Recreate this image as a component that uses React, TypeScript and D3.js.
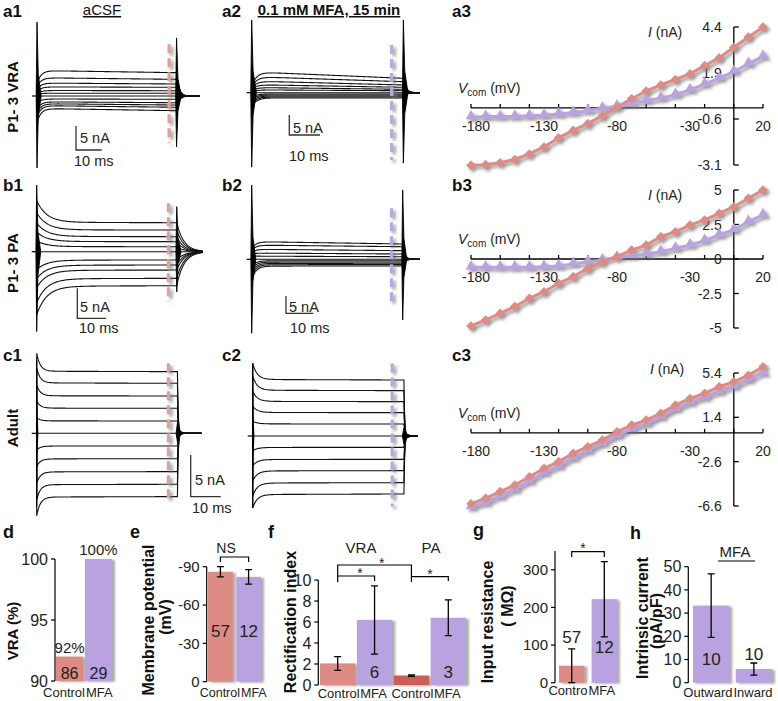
import React from 'react';
import * as d3 from 'd3';

const FONT = '"Liberation Sans", Arial, Helvetica, sans-serif';
const RED = '#dd8c85';
const PURPLE = '#b8a3e0';
const DARK_RED = '#c95e55';
const DASH_RED = '#e39f99';
const DASH_PURPLE = '#b9a6e2';

// ---------- a1–c2: whole-cell currents (nA), one value per voltage step ----------
const a1Late = [4.86, 3.47, 2.5, 1.81, 1.1, 0.56, 0, -0.69, -1.4, -1.88, -2.35, -3.06];
const a1Early = [5.3, 3.8, 2.7, 1.9, 1.15, 0.58, 0, -0.62, -1.2, -1.6, -2.0, -2.6];
const a1Onset = [2.5, 1.8, 1.3, 0.9, 0.5, 0.3, 0, -1.5, -2.8, -3.6, -4.4, -5.6];

const a2Late = [3.6, 2.75, 1.93, 1.35, 0.85, 0.5, 0, -0.33, -0.58, -0.83, -1.08, -1.33];
const a2Early = [5.2, 4.0, 2.9, 2.0, 1.3, 0.7, 0, -0.3, -0.55, -0.8, -1.05, -1.3];
const a2Onset = [1.5, 1.2, 1.0, 0.8, 0.5, 0.2, 0, -1.2, -1.8, -2.4, -3.0, -3.6];

const b1Late = [4.83, 3.61, 2.5, 1.67, 0.83, 0, -1.39, -2.22, -3.06, -4.44, -5.67];
const b1Early = [4.9, 3.65, 2.55, 1.7, 0.85, 0, -1.4, -2.25, -3.1, -4.5, -5.75];
const b1Onset = [8.5, 6.5, 4.8, 3.3, 1.8, 0, -3.0, -4.5, -6.0, -8.5, -10.5];

const b2Late = [4.41, 3.63, 2.48, 1.53, 0.75, 0, -0.4, -0.78, -1.15, -1.53, -1.93];
const b2Early = [5.1, 4.1, 2.9, 1.8, 0.9, 0, -0.42, -0.8, -1.18, -1.56, -1.96];
const b2Onset = [3.0, 2.5, 2.0, 1.5, 1.0, 0, -2.0, -3.0, -4.0, -5.0, -6.0];

const c1Late = [7.4, 6.0, 4.48, 3.0, 1.48, 0, -1.52, -3.05, -4.6, -6.12, -7.6];
const c1Early = [7.45, 6.05, 4.5, 3.02, 1.49, 0, -1.53, -3.07, -4.63, -6.16, -7.65];
const c1Onset = [9.6, 7.8, 5.8, 3.9, 1.9, 0, -2.0, -4.0, -6.0, -8.0, -9.9];

const c2Late = [11.2, 9.07, 6.87, 4.67, 2.4, 0, -2.27, -4.67, -6.93, -9.33, -11.6];
const c2Early = [11.3, 9.15, 6.92, 4.7, 2.42, 0, -2.29, -4.7, -6.98, -9.4, -11.7];
const c2Onset = [14.5, 12.0, 9.0, 6.0, 3.0, 0, -3.0, -6.0, -9.0, -12.0, -14.4];

// capacitive spikes [on up, on down, off up, off down] in nA
const a1Spikes = [15.4, -15, 12.1, -10.6];
const a2Spikes = [18.2, -18.6, 18.2, -17.6];
const b1Spikes = [11.1, -13.3, 7.5, -6.7];
const b2Spikes = [21.4, -21.3, 20, -17.5];
const c1Spikes = [8.8, -8.8, 1.2, -1.0];
const c2Spikes = [14.6, -14.4, 1.6, -1.6];

// ---------- a3–c3: I–V curves ----------
const vSteps = [-180, -170, -160, -150, -140, -130, -120, -110, -100, -90, -80, -70, -60, -50, -40, -30, -20, -10, 0, 10, 20];
const vTicks = [-180, -160, -140, -120, -100, -80, -60, -40, -20, 0, 20];
const vLabels = [-180, -130, -80, -30, 20];

const a3Control = [-3.12, -3.08, -2.98, -2.8, -2.5, -2.12, -1.62, -1.22, -0.85, -0.42, 0.05, 0.5, 0.92, 1.25, 1.55, 1.85, 2.3, 2.72, 3.3, 3.85, 4.4];
const a3MFA = [-0.5, -0.47, -0.47, -0.46, -0.43, -0.4, -0.33, -0.25, -0.15, -0.02, 0.1, 0.25, 0.4, 0.53, 0.72, 0.98, 1.3, 1.62, 1.97, 2.4, 2.8];
const a3Ticks = [-3.1, -0.6, 1.9, 4.4];

const b3Control = [-4.85, -4.42, -3.94, -3.45, -2.85, -2.37, -1.76, -1.28, -0.68, -0.19, 0.17, 0.65, 1.01, 1.62, 1.98, 2.46, 2.83, 3.31, 3.79, 4.4, 5.0];
const b3MFA = [-0.6, -0.6, -0.6, -0.6, -0.6, -0.56, -0.51, -0.36, -0.19, -0.07, 0.12, 0.22, 0.36, 0.53, 0.77, 1.01, 1.33, 1.74, 2.1, 2.71, 3.19];
const b3Ticks = [-5, -2.5, 0, 2.5, 5];

const c3Control = [-6.4, -5.9, -5.3, -4.7, -3.96, -3.2, -2.6, -1.85, -1.25, -0.65, 0.1, 0.7, 1.15, 1.76, 2.5, 3.1, 3.56, 4.16, 4.6, 5.2, 5.97];
const c3MFA = [-6.7, -6.3, -5.7, -5.1, -4.35, -3.6, -3.0, -2.25, -1.6, -0.95, -0.25, 0.35, 0.85, 1.45, 2.15, 2.75, 3.2, 3.75, 4.2, 4.8, 5.4];
const c3Ticks = [-6.6, -2.6, 1.4, 5.4];

// ---------- d–h: summary bars ----------
const dCats = ['Control', 'MFA'];
const dValues = [92, 100];
const dTop = ['92%', '100%'];
const dN = ['86', '29'];
const dTicks = [90, 95, 100];

const eCats = ['Control', 'MFA'];
const eValues = [-86, -82];
const eErr = [4, 5.7];
const eN = ['57', '12'];
const eTicks = [0, -30, -60, -90];

const fCats = ['VRA Control', 'VRA MFA', 'PA Control', 'PA MFA'];
const fLabels = ['Control', 'MFA', 'Control', 'MFA'];
const fValues = [2.05, 6.2, 0.9, 6.4];
const fErr = [0.65, 3.25, 0.07, 1.7];
const fN = ['', '6', '', '3'];
const fTicks = [0, 2, 4, 6, 8, 10];

const gCats = ['Control', 'MFA'];
const gValues = [45, 222];
const gErr = [45, 100];
const gN = ['57', '12'];
const gTicks = [0, 100, 200, 300];

const hCats = ['Outward', 'Inward'];
const hValues = [33.2, 5.9];
const hErr = [13.7, 2.6];
const hN = ['10', '10'];
const hTicks = [0, 10, 20, 30, 40, 50];

type TraceSpec = {
  x0: number; base: number; pxMs: number; pxNA: number;
  stepMs: number; tailMs: number; tauOn: number; tauOff: number;
  late: number[]; early: number[]; onset: number[];
  spikes: number[]; onW: number; offW: number;
  dashMs: number; dash: number[]; dashColor: string;
  bar?: { x: number; y: number; nA: [number, number]; ms: [number, number] };
};

const traceSpecs: TraceSpec[] = [
  { x0: 37, base: 96, pxMs: 2.57, pxNA: 4.8, stepMs: 54.3, tailMs: 63.4, tauOn: 1.5, tauOff: 1.0,
    late: a1Late, early: a1Early, onset: a1Onset, spikes: a1Spikes, onW: 1.6, offW: 1.8,
    dashMs: 51.4, dash: [10.8, -9.8], dashColor: DASH_RED,
    bar: { x: 76, y: 150, nA: [80, 143], ms: [74, 166] } },
  { x0: 251.7, base: 92.7, pxMs: 3.07, pxNA: 4, stepMs: 49.4, tailMs: 54.8, tauOn: 1.5, tauOff: 0.9,
    late: a2Late, early: a2Early, onset: a2Onset, spikes: a2Spikes, onW: 1.5, offW: 1.5,
    dashMs: 45.6, dash: [11.9, -16.8], dashColor: DASH_PURPLE,
    bar: { x: 289.3, y: 135, nA: [293, 133], ms: [289, 161] } },
  { x0: 36.7, base: 251.7, pxMs: 2.87, pxNA: 6, stepMs: 48.8, tailMs: 57.9, tauOn: 3.5, tauOff: 2.5,
    late: b1Late, early: b1Early, onset: b1Onset, spikes: b1Spikes, onW: 1.4, offW: 1.5,
    dashMs: 45.9, dash: [8.07, -8.33], dashColor: DASH_RED,
    bar: { x: 77.3, y: 318.3, nA: [80, 312], ms: [79, 333] } },
  { x0: 251.7, base: 259.3, pxMs: 2.73, pxNA: 3.47, stepMs: 55.3, tailMs: 61.6, tauOn: 1.5, tauOff: 0.8,
    late: b2Late, early: b2Early, onset: b2Onset, spikes: b2Spikes, onW: 1.5, offW: 1.5,
    dashMs: 51.2, dash: [14.7, -13.2], dashColor: DASH_PURPLE,
    bar: { x: 286, y: 313.3, nA: [289, 312], ms: [290, 333] } },
  { x0: 36.7, base: 433.3, pxMs: 3, pxNA: 8.33, stepMs: 46.9, tailMs: 55, tauOn: 1.2, tauOff: 0.25,
    late: c1Late, early: c1Early, onset: c1Onset, spikes: c1Spikes, onW: 0.4, offW: 2.2,
    dashMs: 43.9, dash: [8.4, -8.4], dashColor: DASH_RED,
    bar: { x: 190.7, y: 496.7, nA: [195, 485], ms: [192, 513] } },
  { x0: 252.7, base: 436, pxMs: 3, pxNA: 5, stepMs: 50.4, tailMs: 55.1, tauOn: 1.5, tauOff: 0.25,
    late: c2Late, early: c2Early, onset: c2Onset, spikes: c2Spikes, onW: 0.4, offW: 2.5,
    dashMs: 46.5, dash: [14.5, -14.1], dashColor: DASH_PURPLE },
];

function TracePanel({ p }: { p: TraceSpec }) {
  const x = d3.scaleLinear().domain([0, 10]).range([p.x0, p.x0 + 10 * p.pxMs]);
  const y = d3.scaleLinear().domain([0, 5]).range([p.base, p.base - 5 * p.pxNA]);
  const line = d3.line<number[]>().x((d) => x(d[0])).y((d) => y(d[1]));

  const traces = p.late.map((late, i) => {
    const early = p.early[i];
    const on = p.onset[i];
    const pts: number[][] = [[0, 0]];
    for (let t = 0; t <= p.stepMs; t += 0.25) {
      pts.push([t, early + ((late - early) * t) / p.stepMs + (on - early) * Math.exp(-t / p.tauOn)]);
    }
    for (let t = p.stepMs; t <= p.tailMs + 0.001; t += 0.2) {
      pts.push([t, late * Math.exp(-(t - p.stepMs) / p.tauOff)]);
    }
    return line(pts);
  });

  const spike = (t0: number, up: number, dn: number, w: number) =>
    line([
      [t0 - w * 0.2, 0], [t0, up], [t0 + w * 0.3, up * 0.3], [t0 + w, 0],
      [t0 + w * 0.3, dn * 0.3], [t0, dn], [t0 - w * 0.2, 0],
    ]) + 'Z';

  const [onUp, onDn, offUp, offDn] = p.spikes;
  return (
    <g>
      <line x1={x(0) - 5} x2={x(0)} y1={y(0)} y2={y(0)} stroke="#000" strokeWidth={1.2} />
      {traces.map((d, i) => (
        <path key={i} d={d ?? ''} fill="none" stroke="#111" strokeWidth={1.1} />
      ))}
      <path d={spike(0, onUp, onDn, p.onW)} fill="#000" stroke="#000" strokeWidth={0.9} />
      <path d={spike(p.stepMs, offUp, offDn, p.offW)} fill="#000" stroke="#000" strokeWidth={0.9} />
      <line
        x1={x(p.dashMs)} x2={x(p.dashMs)} y1={y(p.dash[0])} y2={y(p.dash[1])}
        stroke={p.dashColor} strokeWidth={3.2} strokeDasharray="9 5" filter="url(#shLine)"
      />
      {p.bar && (
        <g fill="#222" fontSize={14.5}>
          <path
            d={`M${p.bar.x},${p.bar.y - 5 * p.pxNA}V${p.bar.y}H${p.bar.x + 10 * p.pxMs}`}
            fill="none" stroke="#333" strokeWidth={1.3}
          />
          <text x={p.bar.nA[0]} y={p.bar.nA[1]}>5 nA</text>
          <text x={p.bar.ms[0]} y={p.bar.ms[1]}>10 ms</text>
        </g>
      )}
    </g>
  );
}

type IVSpec = {
  ctrl: number[]; mfa: number[]; ticks: number[]; yTop: number; yBot: number;
  iLabel: [number, number];
};

const ivSpecs: IVSpec[] = [
  { ctrl: a3Control, mfa: a3MFA, ticks: a3Ticks, yTop: 27, yBot: 165, iLabel: [648, 37] },
  { ctrl: b3Control, mfa: b3MFA, ticks: b3Ticks, yTop: 190, yBot: 328, iLabel: [648, 200] },
  { ctrl: c3Control, mfa: c3MFA, ticks: c3Ticks, yTop: 373, yBot: 506, iLabel: [650, 374] },
];

function IVPanel({ s }: { s: IVSpec }) {
  const x = d3.scaleLinear().domain([-180, 20]).range([471, 763]);
  const lo = s.ticks[0];
  const hi = s.ticks[s.ticks.length - 1];
  const y = d3.scaleLinear().domain([lo, hi]).range([s.yBot, s.yTop]);
  const line = d3.line<number>().x((_d, i) => x(vSteps[i])).y((d) => y(d));
  const square = d3.symbol(d3.symbolSquare, 46)() ?? '';
  const tri = d3.symbol(d3.symbolTriangle, 50)() ?? '';
  const y0 = y(0);
  const xa = x(0);
  return (
    <g fontSize={14} fill="#222">
      {/* x axis */}
      <line x1={x(-180)} x2={x(20)} y1={y0} y2={y0} stroke="#000" strokeWidth={1.3} />
      {vTicks.map((v) => (
        <line key={v} x1={x(v)} x2={x(v)} y1={y0} y2={y0 - 4} stroke="#000" strokeWidth={1.3} />
      ))}
      {vLabels.map((v) => (
        <text key={v} x={x(v) + (v === -180 ? 5 : 0)} y={y0 + 23} textAnchor="middle">{v}</text>
      ))}
      {/* y axis */}
      <line x1={xa} x2={xa} y1={y(hi)} y2={y(lo)} stroke="#000" strokeWidth={1.3} />
      {s.ticks.map((t) => (
        <g key={t}>
          <line x1={xa} x2={xa + 5} y1={y(t)} y2={y(t)} stroke="#000" strokeWidth={1.3} />
          <text x={xa - 12} y={y(t) + 5} textAnchor="end">{t}</text>
        </g>
      ))}
      <text x={458} y={y0 - 15}>
        <tspan fontStyle="italic">V</tspan>
        <tspan fontSize={10} dy={3}>com</tspan>
        <tspan dy={-3}> (mV)</tspan>
      </text>
      <text x={s.iLabel[0]} y={s.iLabel[1]}>
        <tspan fontStyle="italic">I</tspan> (nA)
      </text>
      {/* curves */}
      <g filter="url(#shLine)">
        <path d={line(s.mfa) ?? ''} fill="none" stroke={PURPLE} strokeWidth={3} />
        {s.mfa.map((v, i) => (
          <path key={i} d={tri} transform={`translate(${x(vSteps[i])},${y(v) - 1})`} fill={PURPLE} />
        ))}
        <path d={line(s.ctrl) ?? ''} fill="none" stroke={RED} strokeWidth={3} />
        {s.ctrl.map((v, i) => (
          <path key={i} d={square} transform={`translate(${x(vSteps[i])},${y(v)}) rotate(45)`} fill={RED} />
        ))}
      </g>
    </g>
  );
}

function YAxis({ x, scale, ticks, size = 15 }: {
  x: number; scale: d3.ScaleLinear<number, number>; ticks: number[]; size?: number;
}) {
  const [a, b] = scale.range();
  return (
    <g fontSize={size} fill="#222">
      <line x1={x} x2={x} y1={a} y2={b} stroke="#000" strokeWidth={1.2} />
      {ticks.map((t) => (
        <g key={t}>
          <line x1={x - 4} x2={x} y1={scale(t)} y2={scale(t)} stroke="#000" strokeWidth={1.2} />
          <text x={x - 7} y={scale(t) + size * 0.36} textAnchor="end">{t}</text>
        </g>
      ))}
    </g>
  );
}

function Bars({ band, y, cats, values, colors, err }: {
  band: d3.ScaleBand<string>; y: d3.ScaleLinear<number, number>; cats: string[];
  values: number[]; colors: string[]; err?: number[];
}) {
  const base = y.domain()[0];
  return (
    <g>
      <g filter="url(#shBar)">
        {cats.map((c, i) => (
          <rect key={c} x={band(c)} width={band.bandwidth()} y={Math.min(y(values[i]), y(base))}
            height={Math.abs(y(base) - y(values[i]))} fill={colors[i]} />
        ))}
      </g>
      {err && cats.map((c, i) => {
        const cx = (band(c) ?? 0) + band.bandwidth() / 2;
        const t = y(values[i] + Math.sign(values[i]) * err[i]);
        const b = y(values[i] - Math.sign(values[i]) * err[i]);
        return (
          <path key={c} d={`M${cx - 3.5},${t}H${cx + 3.5}M${cx},${t}V${b}M${cx - 3.5},${b}H${cx + 3.5}`}
            stroke="#000" strokeWidth={1.3} fill="none" />
        );
      })}
    </g>
  );
}

const bold = { fontWeight: 700 } as const;

function RotLabel({ x, y, text, size = 15 }: { x: number; y: number; text: string; size?: number }) {
  return (
    <text transform={`translate(${x},${y}) rotate(-90)`} textAnchor="middle" dy="0.35em" fontSize={size} style={bold} fill="#111">
      {text}
    </text>
  );
}

// two category labels meeting at the gap between their bars, as in the original
function PairLabels({ band, cats, labels, yb, shift, size = 13 }: {
  band: d3.ScaleBand<string>; cats: string[]; labels: string[]; yb: number; shift: number; size?: number;
}) {
  const gap = ((band(cats[0]) ?? 0) + band.bandwidth() + (band(cats[1]) ?? 0)) / 2 + shift;
  return (
    <g fontSize={size} fill="#222">
      <text x={gap - 0.5} y={yb} textAnchor="end">{labels[0]}</text>
      <text x={gap + 0.5} y={yb} textAnchor="start">{labels[1]}</text>
    </g>
  );
}

export default function App() {
  const dBand = d3.scaleBand().domain(dCats).range([56, 112]).paddingInner(0.06);
  const dY = d3.scaleLinear().domain([90, 100]).range([681, 559]);
  const eBand = d3.scaleBand().domain(eCats).range([208, 261]).paddingInner(0.12);
  const eY = d3.scaleLinear().domain([0, -90]).range([681.7, 566.7]);
  const fBand = d3.scaleBand().domain(fCats).range([320, 466]).paddingInner(0.04);
  const fY = d3.scaleLinear().domain([0, 10]).range([685, 580]);
  const gBand = d3.scaleBand().domain(gCats).range([559, 617]).paddingInner(0.22);
  const gY = d3.scaleLinear().domain([0, 350]).range([682.7, 551]);
  const hBand = d3.scaleBand().domain(hCats).range([693, 772]).paddingInner(0.15);
  const hY = d3.scaleLinear().domain([0, 50]).range([682.7, 566.7]);

  const mid = (band: d3.ScaleBand<string>, c: string) => (band(c) ?? 0) + band.bandwidth() / 2;

  const fm = fCats.map((c) => mid(fBand, c));
  const gm = gCats.map((c) => mid(gBand, c));
  const em = eCats.map((c) => mid(eBand, c));

  return (
    <svg width={778} height={701} style={{ position: 'absolute', left: 0, top: 0, background: '#fff' }}
      fontFamily={FONT}>
      <defs>
        <filter id="shLine" filterUnits="userSpaceOnUse" x={0} y={0} width={778} height={701}>
          <feDropShadow dx={2.5} dy={2.5} stdDeviation={1.4} floodColor="#777" floodOpacity={0.75} />
        </filter>
        <filter id="shBar" filterUnits="userSpaceOnUse" x={0} y={0} width={778} height={701}>
          <feDropShadow dx={3} dy={1} stdDeviation={1.2} floodColor="#999" floodOpacity={0.8} />
        </filter>
      </defs>

      {/* panel letters */}
      <g fontSize={17} style={bold} fill="#111">
        <text x={3} y={17}>a1</text>
        <text x={222} y={17}>a2</text>
        <text x={452} y={17}>a3</text>
        <text x={3} y={191}>b1</text>
        <text x={222} y={191}>b2</text>
        <text x={452} y={191}>b3</text>
        <text x={3} y={361}>c1</text>
        <text x={222} y={361}>c2</text>
        <text x={452} y={361}>c3</text>
        <text x={3} y={538} fontSize={18}>d</text>
        <text x={130} y={538} fontSize={18}>e</text>
        <text x={268} y={538} fontSize={18}>f</text>
        <text x={473} y={536} fontSize={18}>g</text>
        <text x={630} y={539} fontSize={18}>h</text>
      </g>

      {/* column titles */}
      <text x={102} y={15} textAnchor="middle" fontSize={15} textDecoration="underline" fill="#111">aCSF</text>
      <text x={329} y={15} textAnchor="middle" fontSize={15} style={bold} textDecoration="underline" fill="#111">
        0.1 mM MFA, 15 min
      </text>

      {/* row labels */}
      <RotLabel x={13} y={97} text="P1- 3 VRA" />
      <RotLabel x={13} y={263} text="P1- 3 PA" />
      <RotLabel x={13} y={428} text="Adult" />

      {traceSpecs.map((p, i) => <TracePanel key={i} p={p} />)}
      {ivSpecs.map((s, i) => <IVPanel key={i} s={s} />)}

      {/* d */}
      <RotLabel x={13} y={631} text="VRA (%)" />
      <YAxis x={55} scale={dY} ticks={dTicks} size={16} />
      <Bars band={dBand} y={dY} cats={dCats} values={dValues} colors={[RED, PURPLE]} />
      {dCats.map((c, i) => (
        <g key={c} fontSize={15} fill="#222" textAnchor="middle">
          <text x={mid(dBand, c)} y={dY(dValues[i]) - 4}>{dTop[i]}</text>
          <text x={mid(dBand, c)} y={679} fontSize={16}>{dN[i]}</text>
        </g>
      ))}
      <PairLabels band={dBand} cats={dCats} labels={dCats} yb={697} shift={1.5} />

      {/* e */}
      <RotLabel x={148} y={620} text="Membrane potential" size={16} />
      <RotLabel x={165} y={617} text="(mV)" size={16} />
      <YAxis x={206.7} scale={eY} ticks={eTicks} size={15} />
      <Bars band={eBand} y={eY} cats={eCats} values={eValues} colors={[RED, PURPLE]} err={eErr} />
      {eCats.map((c, i) => (
        <text key={c} x={mid(eBand, c)} y={637} textAnchor="middle" fontSize={17} fill="#222">{eN[i]}</text>
      ))}
      <path d={`M${em[0]},562V557H${em[1]}V562`} fill="none" stroke="#000" strokeWidth={1.2} />
      <text x={226} y={553} textAnchor="middle" fontSize={14} fill="#222">NS</text>
      <PairLabels band={eBand} cats={eCats} labels={eCats} yb={697} shift={6} size={12.5} />

      {/* f */}
      <RotLabel x={290} y={622} text="Rectification index" size={16} />
      <YAxis x={318.3} scale={fY} ticks={fTicks} size={16} />
      <Bars band={fBand} y={fY} cats={fCats} values={fValues} colors={[RED, PURPLE, DARK_RED, PURPLE]} err={fErr} />
      {fCats.map((c, i) => (
        <text key={c} x={mid(fBand, c)} y={678} textAnchor="middle" fontSize={17} fill="#222">{fN[i]}</text>
      ))}
      <g fill="none" stroke="#000" strokeWidth={1.2}>
        <path d={`M${fm[0]},582V565H${fm[2]}V582`} />
        <path d={`M${fm[0]},576H${fm[1]}V581`} />
        <path d={`M${fm[2]},576.7H${fm[3]}V581`} />
      </g>
      <g fontSize={14} fill="#222" textAnchor="middle">
        <text x={360} y={578}>*</text>
        <text x={381.7} y={568}>*</text>
        <text x={430} y={579}>*</text>
      </g>
      <text x={361} y={553} textAnchor="middle" fontSize={15} fill="#222">VRA</text>
      <text x={431} y={553} textAnchor="middle" fontSize={15} fill="#222">PA</text>
      {fCats.map((c, i) => (
        <text key={c} x={mid(fBand, c) + (i % 2 === 0 ? 1 : -1)} y={698} textAnchor="middle" fontSize={13} fill="#222">
          {fLabels[i]}
        </text>
      ))}

      {/* g */}
      <RotLabel x={487} y={622} text="Input resistance" size={16} />
      <RotLabel x={507} y={606} text="( MΩ)" size={16} />
      <YAxis x={555} scale={gY} ticks={gTicks} size={15} />
      <Bars band={gBand} y={gY} cats={gCats} values={gValues} colors={[RED, PURPLE]} err={gErr} />
      <text x={gm[0]} y={643} textAnchor="middle" fontSize={17} fill="#222">{gN[0]}</text>
      <text x={gm[1]} y={653} textAnchor="middle" fontSize={17} fill="#222">{gN[1]}</text>
      <path d={`M${gm[0]},557V551.7H${gm[1]}V557`} fill="none" stroke="#000" strokeWidth={1.2} />
      <text x={583} y={553} textAnchor="middle" fontSize={14} fill="#222">*</text>
      <PairLabels band={gBand} cats={gCats} labels={['Contro', 'MFA']} yb={695} shift={0} />

      {/* h */}
      <RotLabel x={642} y={618} text="Intrinsic current" size={16} />
      <RotLabel x={656} y={621} text="(pA/pF)" size={16} />
      <YAxis x={688.3} scale={hY} ticks={hTicks} size={16} />
      <Bars band={hBand} y={hY} cats={hCats} values={hValues} colors={[PURPLE, PURPLE]} err={hErr} />
      <text x={mid(hBand, hCats[0])} y={665} textAnchor="middle" fontSize={17} fill="#222">{hN[0]}</text>
      <text x={mid(hBand, hCats[1])} y={660} textAnchor="middle" fontSize={17} fill="#222">{hN[1]}</text>
      <text x={735} y={557} textAnchor="middle" fontSize={15} fill="#222">MFA</text>
      <line x1={718} x2={755} y1={561} y2={561} stroke="#000" strokeWidth={1.2} />
      <PairLabels band={hBand} cats={hCats} labels={hCats} yb={697} shift={0.5} />
    </svg>
  );
}
